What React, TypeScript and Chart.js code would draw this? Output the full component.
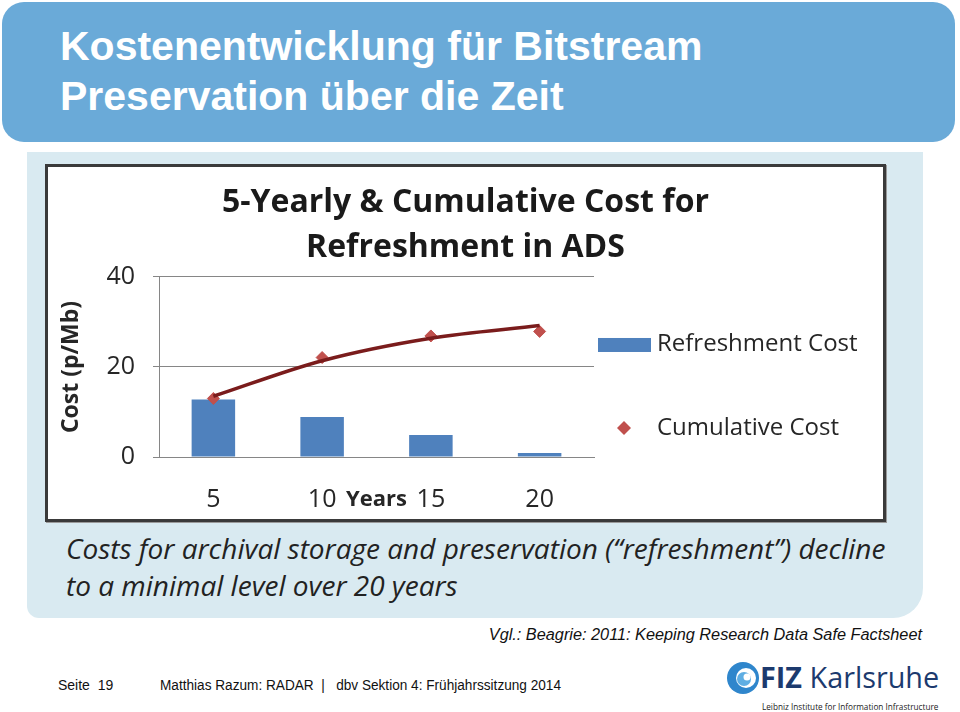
import React, { useEffect, useRef } from "react";
import { Chart, registerables } from "chart.js";

Chart.register(...registerables);

// ---- data ----
const categories = ["5", "10", "15", "20"];
const refreshmentCost = [12.8, 8.9, 4.9, 0.9];
const cumulativeCost = [13.0, 22.1, 26.9, 27.9];
const cumulativeTrend = [13.5, 21.4, 26.4, 29.2];
const yMin = 0;
const yMax = 40;
const yStep = 20;
const chartTitle = ["5-Yearly & Cumulative Cost for", "Refreshment in ADS"];
const xAxisTitle = "Years";
const yAxisTitle = "Cost (p/Mb)";
const seriesNames = ["Refreshment Cost", "Cumulative Cost", "Trend"];

const CAL = "'Open Sans', Lato, sans-serif";
const TEXT = "#262626";
const GRID = "#868686";

const sideLegend = {
  id: "sideLegend",
  afterDraw(chart: any) {
    const { ctx, chartArea } = chart;
    const x0 = chartArea.right;
    const t0 = chartArea.top;
    const ds = chart.data.datasets;
    ctx.save();
    ctx.font = `24px ${CAL}`;
    ctx.textBaseline = "middle";
    ctx.textAlign = "left";
    // bar entry
    ctx.fillStyle = ds[0].backgroundColor;
    ctx.fillRect(x0 + 4, t0 + 61, 53, 14);
    ctx.fillStyle = TEXT;
    ctx.fillText(ds[0].label, x0 + 63, t0 + 67);
    // point entry
    const cx = x0 + 30;
    const cy = t0 + 151;
    const r = 7;
    ctx.fillStyle = ds[1].pointBackgroundColor;
    ctx.beginPath();
    ctx.moveTo(cx, cy - r);
    ctx.lineTo(cx + r, cy);
    ctx.lineTo(cx, cy + r);
    ctx.lineTo(cx - r, cy);
    ctx.closePath();
    ctx.fill();
    ctx.fillStyle = TEXT;
    ctx.fillText(ds[1].label, x0 + 63, cy);
    // x axis title between 2nd and 3rd category
    const xs = chart.scales.x;
    const mx = (xs.getPixelForValue(1) + xs.getPixelForValue(2)) / 2;
    ctx.font = `bold 22px ${CAL}`;
    ctx.textAlign = "center";
    ctx.fillText(xAxisTitle, mx, chartArea.bottom + 43);
    ctx.restore();
  },
};

function ChartBox() {
  const ref = useRef<HTMLCanvasElement | null>(null);
  useEffect(() => {
    if (!ref.current) return;
    const tickFont = { family: CAL, size: 25 };
    const chart = new Chart(ref.current, {
      type: "bar",
      data: {
        labels: categories,
        datasets: [
          {
            type: "bar",
            label: seriesNames[0],
            data: refreshmentCost,
            backgroundColor: "#4F81BD",
            categoryPercentage: 1,
            barPercentage: 0.4,
            order: 2,
          } as any,
          {
            type: "line",
            label: seriesNames[1],
            data: cumulativeCost,
            showLine: false,
            pointStyle: "rectRot",
            pointRadius: 6,
            pointBackgroundColor: "#C0504D",
            pointBorderColor: "#C0504D",
            order: 1,
          },
          {
            type: "line",
            label: seriesNames[2],
            data: cumulativeTrend,
            borderColor: "#7A1C1C",
            borderWidth: 3.5,
            pointRadius: 0,
            cubicInterpolationMode: "monotone",
            order: 0,
          },
        ],
      },
      options: {
        animation: false,
        responsive: false,
        maintainAspectRatio: false,
        layout: { padding: 0 },
        plugins: {
          legend: { display: false },
          tooltip: { enabled: false },
          title: {
            display: true,
            text: chartTitle,
            color: "#1a1a1a",
            font: { family: CAL, size: 32, weight: "bold", lineHeight: 1.406 },
            padding: { top: 13, bottom: 7 },
          },
        },
        scales: {
          x: {
            grid: { display: false, drawTicks: false },
            border: { display: true, color: GRID },
            ticks: { font: tickFont, color: TEXT, padding: 28 },
            afterFit: (s: any) => {
              s.height = 62;
            },
          },
          y: {
            min: yMin,
            max: yMax,
            ticks: { stepSize: yStep, font: tickFont, color: TEXT, padding: 18 },
            grid: { color: GRID, tickLength: 6, tickColor: GRID },
            border: { color: GRID },
            title: {
              display: true,
              text: yAxisTitle,
              color: TEXT,
              font: { family: CAL, size: 23, weight: "bold" },
              padding: { top: 10, bottom: 0 },
            },
            afterFit: (s: any) => {
              s.width = 111;
            },
          },
          y2: {
            position: "right",
            display: true,
            grid: { display: false, drawTicks: false },
            border: { display: false },
            ticks: { display: false },
            afterFit: (s: any) => {
              s.width = 289;
            },
          },
        },
      } as any,
      plugins: [sideLegend],
    });
    return () => chart.destroy();
  }, []);
  return <canvas ref={ref} width={835} height={352} style={{ display: "block" }} />;
}

export default function App() {
  const abs = (o: any) => ({ position: "absolute" as const, ...o });
  return (
    <div
      style={{
        position: "absolute",
        left: 0,
        top: 0,
        width: 960,
        height: 712,
        background: "#fff",
        overflow: "hidden",
        fontFamily: "'Liberation Sans', Arial, sans-serif",
      }}
    >
      <div style={abs({ left: 2, top: 2, width: 953, height: 140, background: "#6AAAD8", borderRadius: 22 })} />
      <div
        style={abs({
          left: 60,
          top: 21,
          color: "#fff",
          fontWeight: "bold",
          fontSize: 41,
          lineHeight: "50px",
          whiteSpace: "nowrap",
        })}
      >
        Kostenentwicklung für Bitstream
        <br />
        Preservation über die Zeit
      </div>

      <div style={abs({ left: 27, top: 152, width: 896, height: 466, background: "#D9EAF1", borderRadius: "0 0 30px 12px" })} />
      <div
        style={abs({
          left: 45,
          top: 164,
          width: 841,
          height: 358,
          border: "3px solid #3a3a3a",
          boxSizing: "border-box",
          background: "#fff",
          boxShadow: "1px 1px 0 #9a9a9a",
        })}
      >
        <ChartBox />
      </div>
      <div
        style={abs({
          left: 66,
          top: 530,
          fontFamily: CAL,
          fontStyle: "italic",
          fontSize: 28,
          lineHeight: "37px",
          color: "#222",
          whiteSpace: "nowrap",
        })}
      >
        Costs for archival storage and preservation (“refreshment”) decline
        <br />
        to a minimal level over 20 years
      </div>

      <div
        style={abs({
          right: 38,
          top: 625,
          fontStyle: "italic",
          fontSize: 16.3,
          color: "#111",
          whiteSpace: "nowrap",
        })}
      >
        Vgl.: Beagrie: 2011: Keeping Research Data Safe Factsheet
      </div>

      <div style={abs({ left: 58, top: 677, fontSize: 14, color: "#111", whiteSpace: "nowrap" })}>Seite&nbsp;&nbsp;19</div>
      <div
        style={abs({
          left: 160,
          top: 677,
          fontSize: 14,
          color: "#111",
          whiteSpace: "nowrap",
          transform: "scaleX(0.973)",
          transformOrigin: "left top",
        })}
      >
        Matthias Razum: RADAR&nbsp;&nbsp;|&nbsp;&nbsp; dbv Sektion 4: Frühjahrssitzung 2014
      </div>

      <svg style={abs({ left: 726, top: 659 })} width={34} height={38} viewBox="0 0 34 38">
        <circle cx={17} cy={19} r={16} fill="#2F86CC" />
        <circle cx={20} cy={19} r={10} fill="#fff" />
        <circle cx={18} cy={20} r={7} fill="#5FAEE3" />
        <circle cx={21} cy={18} r={3.5} fill="#fff" />
      </svg>
      <div
        style={abs({
          left: 760,
          top: 657,
          fontFamily: "'Open Sans', sans-serif",
          fontSize: 28.8,
          lineHeight: "40px",
          color: "#1C3A6E",
          whiteSpace: "nowrap",
        })}
      >
        <span style={{ fontWeight: "bold" }}>FIZ</span> Karlsruhe
      </div>
      <div
        style={abs({
          left: 762,
          top: 701,
          fontFamily: "'Open Sans', sans-serif",
          fontSize: 8.2,
          color: "#222",
          whiteSpace: "nowrap",
        })}
      >
        Leibniz Institute for Information Infrastructure
      </div>
    </div>
  );
}
